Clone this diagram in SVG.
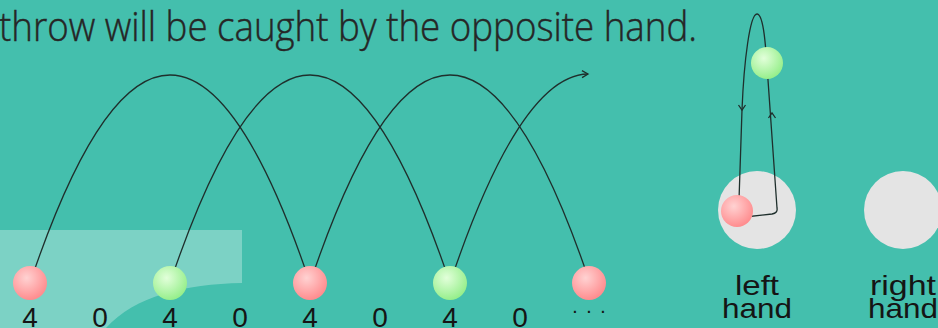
<svg xmlns="http://www.w3.org/2000/svg" width="938" height="328" viewBox="0 0 938 328">
<defs>
<radialGradient id="gRed" cx="0.4" cy="0.35" r="0.65">
<stop offset="0" stop-color="#ffd2d2"/>
<stop offset="1" stop-color="#ff8d8f"/>
</radialGradient>
<radialGradient id="gGreen" cx="0.4" cy="0.35" r="0.65">
<stop offset="0" stop-color="#e2ffda"/>
<stop offset="1" stop-color="#97ef8c"/>
</radialGradient>
<marker id="arr" markerWidth="10" markerHeight="10" refX="7" refY="5" orient="auto" markerUnits="userSpaceOnUse">
<path d="M1,1.5 L7,5 L1,8.5" fill="none" stroke="#1f2f2c" stroke-width="1.3"/>
</marker>
<style>
.ln{fill:none;stroke:#1f2f2c;stroke-width:1.3}
.red{fill:url(#gRed)}
.green{fill:url(#gGreen)}
.hand{fill:#e4e4e4}
.num{font-family:"Liberation Sans",Arial,sans-serif;font-size:28px;fill:#151515;text-anchor:middle}
.lab{font-family:"Liberation Sans",Arial,sans-serif;font-size:28px;fill:#151515;text-anchor:middle}
.title{font-family:"Open Sans",sans-serif;font-weight:300;font-size:40px;fill:#262626;stroke:#262626;stroke-width:0.45}
</style>
</defs>
<rect width="938" height="328" fill="#44bfad"/>
<path d="M0,230 H242 V283 C185,284 135,296 106,328 H0 Z" fill="#ffffff" fill-opacity="0.3"/>
<text class="title" x="-1" y="41" textLength="698" lengthAdjust="spacingAndGlyphs">throw will be caught by the opposite hand.</text>
<g id="hand-left"><circle class="hand" cx="757" cy="210" r="39"/></g>
<g id="hand-right"><circle class="hand" cx="903" cy="210" r="39"/></g>
<g id="connectors">
<path class="ln" d="M30,283 Q170,-133 310,283"/>
<path class="ln" d="M170,283 Q310,-133 450,283"/>
<path class="ln" d="M310,283 Q450,-133 590,283"/>
<path class="ln" d="M450,283 Q520,75 588,74" marker-end="url(#arr)"/>
<path class="ln" d="M739,200 L742,110 C744,60 750,14 757,14 C764,14 766,50 768,80 L777,208 Q778,213 772,214 L745,217"/>
<path class="ln" d="M738.5,105 L742,110 L745.5,105"/>
<path class="ln" d="M768.5,118 L772,113 L775.5,118"/>
</g>
<g id="ball-1"><circle class="red" cx="30" cy="283" r="17"/></g>
<g id="ball-2"><circle class="green" cx="170" cy="283" r="17"/></g>
<g id="ball-3"><circle class="red" cx="310" cy="283" r="17"/></g>
<g id="ball-4"><circle class="green" cx="450" cy="283" r="17"/></g>
<g id="ball-5"><circle class="red" cx="589" cy="283" r="17"/></g>
<g id="ball-left-red"><circle class="red" cx="737" cy="211" r="16"/></g>
<g id="ball-left-green"><circle class="green" cx="767" cy="63" r="16"/></g>
<g id="sequence">
<text class="num" x="30" y="327">4</text>
<text class="num" x="100" y="327">0</text>
<text class="num" x="170" y="327">4</text>
<text class="num" x="240" y="327">0</text>
<text class="num" x="310" y="327">4</text>
<text class="num" x="380" y="327">0</text>
<text class="num" x="450" y="327">4</text>
<text class="num" x="520" y="327">0</text>
<text x="573" y="313" font-family="Liberation Sans,Arial,sans-serif" font-size="14" font-weight="bold" letter-spacing="10.1" fill="#151515">...</text>
</g>
<g id="label-left">
<text class="lab" x="757" y="295" textLength="44" lengthAdjust="spacingAndGlyphs">left</text>
<text class="lab" x="757" y="318" textLength="70" lengthAdjust="spacingAndGlyphs">hand</text>
</g>
<g id="label-right">
<text class="lab" x="903" y="295" textLength="66" lengthAdjust="spacingAndGlyphs">right</text>
<text class="lab" x="903" y="318" textLength="70" lengthAdjust="spacingAndGlyphs">hand</text>
</g>
</svg>
